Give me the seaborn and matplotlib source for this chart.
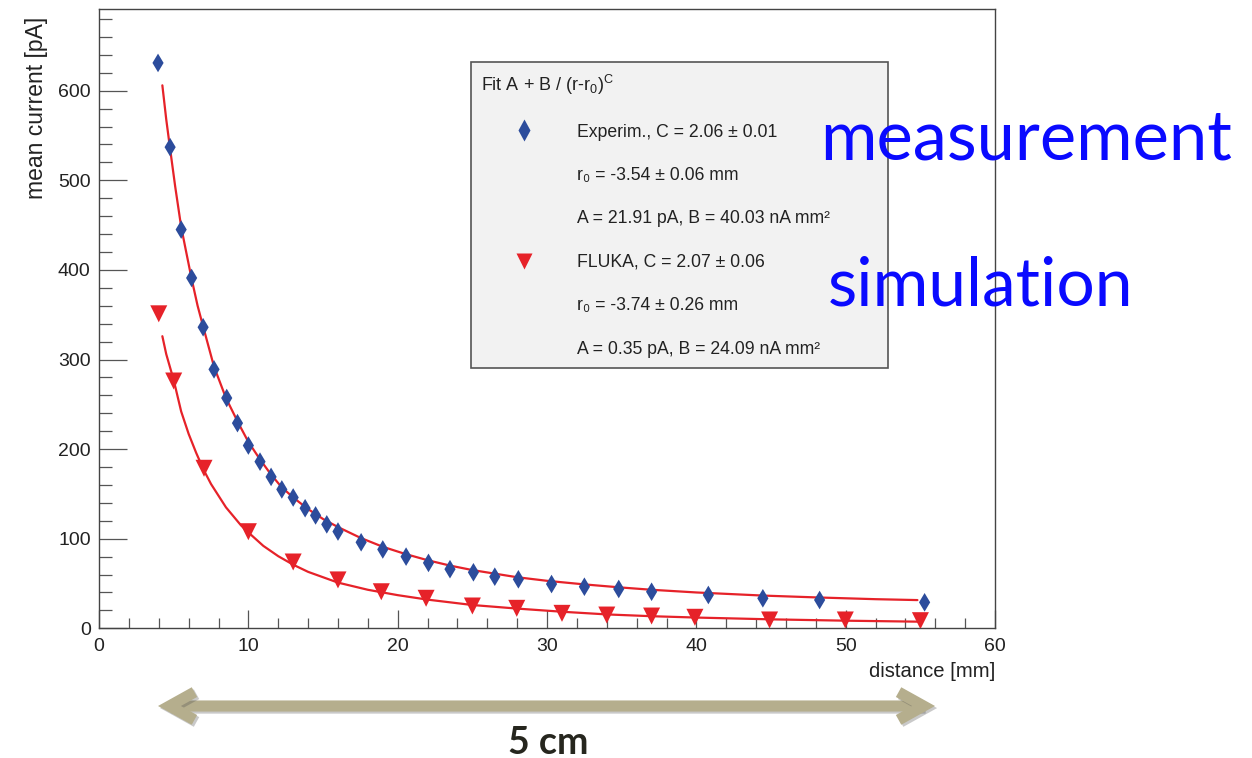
import matplotlib
matplotlib.use("Agg")
import matplotlib.pyplot as plt
import matplotlib.patheffects as pe
from matplotlib.lines import Line2D
from matplotlib.patches import FancyArrowPatch, ArrowStyle
from matplotlib.ticker import MultipleLocator
import pandas as pd
import seaborn as sns

exp_dist = [3.95, 4.76, 5.5, 6.2, 6.97, 7.7, 8.55, 9.27, 10.0, 10.78, 11.52, 12.24,
            13.0, 13.8, 14.5, 15.25, 16.0, 17.55, 19.0, 20.56, 22.06, 23.5, 25.07,
            26.5, 28.08, 30.3, 32.5, 34.8, 37.0, 40.8, 44.45, 48.25, 55.28]
exp_current = [631, 537, 445, 391, 336, 289, 257, 229, 204, 186, 169, 155,
               146, 134, 126, 116, 108, 96, 88, 80, 73, 66, 62.5,
               57.6, 54.7, 49.4, 46.4, 43.9, 40.8, 37.2, 33.5, 31.6, 29]

sim_dist = [4.0, 5.0, 7.03, 10.0, 13.0, 16.0, 18.9, 21.9, 25.0, 27.97, 31.0,
            34.0, 37.0, 39.9, 44.9, 49.97, 55.0]
sim_current = [351, 276, 178.6, 107.8, 74, 54, 40.8, 33.5, 24.9, 22.3, 16.7,
               14.8, 13.7, 12.3, 9.3, 9.3, 8.5]

# fitted curves, sampled along the drawn red lines
exp_fit_dist = [4.24, 4.5, 4.76, 5.1, 5.5, 5.8, 6.2, 6.6, 7.0, 7.7, 8.5, 9.3, 10.0,
                10.8, 11.5, 12.2, 13.0, 14.0, 15.0, 16.0, 17.5, 19.0, 20.5, 22.0,
                23.5, 25.0, 26.5, 28.0, 30.0, 32.5, 35.0, 37.0, 40.0, 44.5, 48.0,
                52.0, 54.8]
exp_fit_current = [606, 568, 535, 493, 448, 423, 390, 360, 335, 292, 257, 230, 208,
                   188, 172, 158, 146, 133, 122, 113, 101, 91, 83, 76,
                   70, 65, 61, 57, 53, 49, 45.5, 43, 40, 36.5, 34.5,
                   32.5, 31.5]

sim_fit_dist = [4.24, 4.5, 5.0, 5.5, 6.0, 6.5, 7.0, 7.5, 8.0, 8.5, 9.0, 9.5, 10.0,
                11.0, 12.0, 13.0, 14.0, 16.0, 18.0, 20.0, 22.0, 25.0, 28.0, 31.0,
                34.0, 37.0, 40.0, 45.0, 50.0, 54.9]
sim_fit_current = [326, 306, 277, 242, 217, 196, 177, 161, 148, 135, 125, 115, 107,
                   92, 80.5, 71, 63, 51, 43, 37, 32, 26, 22, 18.5,
                   15.5, 13.5, 12, 10, 8.5, 7.4]

legend_title = r"Fit A + B / (r-r$_\mathregular{0}$)$^\mathregular{C}$"
legend_labels = [
    "Experim., C = 2.06 ± 0.01",
    "r\u2080 = -3.54 ± 0.06 mm",
    "A = 21.91 pA, B = 40.03 nA mm²",
    "FLUKA, C = 2.07 ± 0.06",
    "r\u2080 = -3.74 ± 0.26 mm",
    "A = 0.35 pA, B = 24.09 nA mm²",
]

BLUE = "#2c4c9c"
RED = "#e62229"

sns.set_style("ticks")
plt.rcParams["font.family"] = ["Liberation Sans", "DejaVu Sans"]
plt.rcParams["mathtext.fontset"] = "custom"
plt.rcParams["mathtext.rm"] = "Liberation Sans"
plt.rcParams["axes.unicode_minus"] = False

exp_pts = pd.DataFrame({"distance": exp_dist, "current": exp_current})
sim_pts = pd.DataFrame({"distance": sim_dist, "current": sim_current})
exp_fit = pd.DataFrame({"distance": exp_fit_dist, "current": exp_fit_current})
sim_fit = pd.DataFrame({"distance": sim_fit_dist, "current": sim_fit_current})

fig = plt.figure(figsize=(12.52, 7.58), dpi=100)
ax = fig.add_axes([0.0791, 0.1711, 0.7157, 0.8168])

sns.lineplot(data=exp_fit, x="distance", y="current", color=RED, lw=1.6,
             estimator=None, ax=ax, zorder=2)
sns.lineplot(data=sim_fit, x="distance", y="current", color=RED, lw=1.6,
             estimator=None, ax=ax, zorder=2)
sns.scatterplot(data=exp_pts, x="distance", y="current", marker="d", s=90,
                color=BLUE, edgecolor="none", ax=ax, zorder=3)
sns.scatterplot(data=sim_pts, x="distance", y="current", marker="v", s=150,
                color=RED, edgecolor="none", ax=ax, zorder=3)

ax.set_xlim(0, 60)
ax.set_ylim(0, 691)
ax.xaxis.set_major_locator(MultipleLocator(10))
ax.xaxis.set_minor_locator(MultipleLocator(2))
ax.yaxis.set_major_locator(MultipleLocator(100))
ax.yaxis.set_minor_locator(MultipleLocator(20))
ax.tick_params(axis="x", which="major", direction="in", length=13, width=0.9,
               color="#555555", labelsize=14, pad=7, labelcolor="#222222")
ax.tick_params(axis="x", which="minor", direction="in", length=7, width=0.9,
               color="#555555")
ax.tick_params(axis="y", which="major", direction="in", length=20, width=0.9,
               color="#555555", labelsize=14, pad=6, labelcolor="#222222")
ax.tick_params(axis="y", which="minor", direction="in", length=9.5, width=0.9,
               color="#555555")
for side in ["top", "right", "left", "bottom"]:
    ax.spines[side].set_visible(True)
    ax.spines[side].set_color("#444444")
    ax.spines[side].set_linewidth(1.0)

ax.set_xlabel("distance [mm]", loc="right", fontsize=14.6, color="#222222")
ax.xaxis.set_label_coords(1.0, -0.055)
ax.set_ylabel("mean current [pA]", loc="top", fontsize=16.5, color="#222222")
ax.yaxis.set_label_coords(-0.057, 0.987)

handles = [
    Line2D([], [], ls="none", marker="d", ms=11, color=BLUE, mec="none"),
    Line2D([], [], ls="none"),
    Line2D([], [], ls="none"),
    Line2D([], [], ls="none", marker="v", ms=12, color=RED, mec="none"),
    Line2D([], [], ls="none"),
    Line2D([], [], ls="none"),
]
leg = ax.legend(handles, legend_labels, title=legend_title, loc="upper left",
                bbox_to_anchor=(0.415, 0.417, 0.466, 0.497), mode="expand",
                alignment="left", fontsize=12.7, title_fontsize=13,
                frameon=True, fancybox=False, framealpha=1,
                facecolor="#f2f2f2", edgecolor="#555555",
                handlelength=4.85, handletextpad=0.57, borderpad=0.6,
                labelspacing=1.5, borderaxespad=0)
leg.get_frame().set_linewidth(1.2)
for t in leg.get_texts():
    t.set_color("#222222")
leg.get_title().set_color("#222222")

fig.text(820 / 1252, 1 - 160 / 758, "measurement", family="Lato", fontsize=49.4,
         color="#0a0aff", va="baseline", ha="left")
fig.text(828 / 1252, 1 - 305 / 758, "simulation", family="Lato", fontsize=48.8,
         color="#0a0aff", va="baseline", ha="left")

arrow = FancyArrowPatch((158 / 1252, 1 - 706 / 758), (935 / 1252, 1 - 706 / 758),
                        transform=fig.transFigure,
                        arrowstyle=ArrowStyle("<->", head_length=18, head_width=10),
                        mutation_scale=1, lw=8, color="#b5ae8d",
                        joinstyle="miter", capstyle="butt",
                        shrinkA=0, shrinkB=0)
arrow.set_path_effects([pe.SimpleLineShadow(offset=(1.5, -1.5), shadow_color="0.3",
                                            alpha=0.3), pe.Normal()])
fig.add_artist(arrow)

fig.text(548 / 1252, 1 - 754 / 758, "5 cm", family="Lato", fontweight="bold",
         fontsize=27, color="#26261e", va="baseline", ha="center")

fig.savefig("out.png", dpi=100)
